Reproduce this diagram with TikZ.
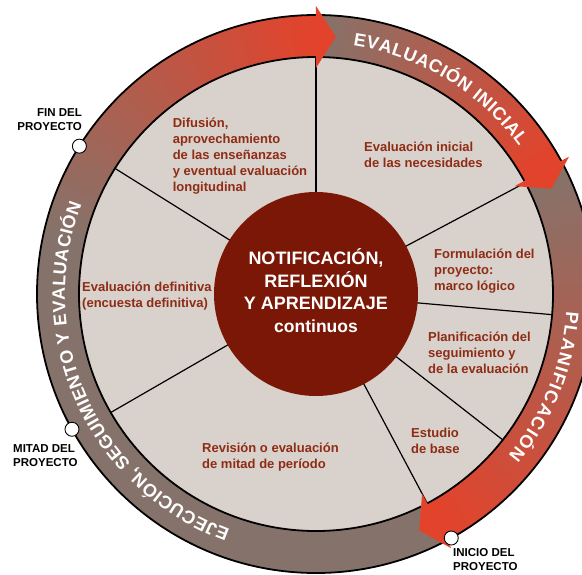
\documentclass[tikz,border=0pt]{standalone}
\usepackage{fontspec}
\setmainfont{Liberation Sans}
\usetikzlibrary{decorations.text}
\definecolor{ringbrown}{HTML}{85736B}
\definecolor{arrowred}{HTML}{E3432B}
\definecolor{segfill}{HTML}{D9D1CB}
\definecolor{hubred}{HTML}{7A1706}
\definecolor{labelred}{HTML}{8E2C16}
\newcommand\ringfont{\fontsize{18}{18}\selectfont\bfseries}
\newcommand\gradarc[3]{%
  \foreach \i in {0,...,47}{%
    \pgfmathsetmacro\aa{#1+(#2-#1)*\i/48}%
    \pgfmathsetmacro\ab{#1+(#2-#1)*(\i+1.4)/48}%
    \pgfmathsetmacro\pp{#3+(100-#3)*\i/47}%
    \fill[arrowred!\pp!ringbrown] (\aa:237pt) arc[start angle=\aa, end angle=\ab, radius=237pt]
      -- (\ab:279pt) arc[start angle=\ab, end angle=\aa, radius=279pt] -- cycle;
  }}
\newcommand\arrowhead[1]{%
  \fill[arrowred] (#1:226pt) -- (#1:288pt) -- ({#1-4.4}:258pt) -- cycle;}
\tikzset{
  seglabel/.style={font=\fontsize{13}{16}\selectfont\bfseries, text=labelred, align=left, inner sep=0pt, anchor=west},
  milestone/.style={font=\fontsize{11.5}{14}\selectfont\bfseries, text=black, inner sep=0pt},
  hubtext/.style={font=\fontsize{18}{22.5}\selectfont\bfseries, text=white, align=center, inner sep=0pt},
  spoke/.style={line width=1.2pt, black},
  dot/.style={circle, draw=black, line width=0.9pt, fill=white, minimum size=14pt, inner sep=0pt},
  ringtext/.style={decorate, decoration={text along path, text color=white, text align={fit to path}}}
}
\begin{document}
\begin{tikzpicture}
\useasboundingbox (-316pt,-280pt) rectangle (266pt,294pt);
\clip (-316pt,-280pt) rectangle (266pt,294pt);
% ring base and segments
\fill[ringbrown] (0,0) circle[radius=279pt];
\fill[segfill] (0,0) circle[radius=237pt];
% gradient arrows
\gradarc{168}{90}{0}
\gradarc{90}{28.5}{0}
\gradarc{28.5}{-62}{0}
% spokes
\foreach \a in {90,148,210,298,322,355,28}{
  \draw[spoke] (0,0) -- (\a:237pt);
}
% hub
\node[circle, fill=hubred, minimum size=204pt, inner sep=0pt] (hub) at (0,0) {};
% outlines
\draw[line width=1.8pt] (0,0) circle[radius=279pt];
\draw[line width=1.8pt] (0,0) circle[radius=237pt];
% arrow heads
\arrowhead{90}
\arrowhead{28.5}
\arrowhead{298}
% milestone dots
\node[dot] (fin) at (148:279pt) {};
\node[dot] (mitad) at (209:279pt) {};
\node[dot] (inicio) at (299:279pt) {};
% ring texts
\path[ringtext, decoration={text={|\ringfont|EVALUACIÓN INICIAL}}] (81.5:251pt) arc[start angle=81.5, end angle=36, radius=251pt];
\path[ringtext, decoration={text={|\ringfont|PLANIFICACIÓN}}] (356:251pt) arc[start angle=356, end angle=320, radius=251pt];
\path[ringtext, decoration={text={|\ringfont|EJECUCIÓN{,} SEGUIMIENTO Y EVALUACIÓN}}] (250:251pt) arc[start angle=250, end angle=159, radius=251pt];
% hub text
\node[hubtext] (hubt) at (0pt,3.5pt) {NOTIFICACIÓN,\\REFLEXIÓN\\Y APRENDIZAJE\\{\fontsize{17.5}{22.5}\selectfont continuos}};
% segment labels
\node[seglabel] (difusion) at (-143.4pt,138pt) {Difusión,\\aprovechamiento\\de las enseñanzas\\y eventual evaluación\\longitudinal};
\node[seglabel] (evalini) at (48pt,139pt) {Evaluación inicial\\de las necesidades};
\node[seglabel] (formul) at (118pt,23pt) {Formulación del\\proyecto:\\marco lógico};
\node[seglabel] (planif) at (112pt,-58.7pt) {Planificación del\\seguimiento y\\de la evaluación};
\node[seglabel] (estudio) at (95pt,-147pt) {Estudio\\de base};
\node[seglabel] (revision) at (-114pt,-163.5pt) {Revisión o evaluación\\de mitad de período};
\node[seglabel] (evaldef) at (-234pt,-2pt) {Evaluación definitiva\\(encuesta definitiva)};
% milestone labels
\node[milestone, align=right, anchor=east] (finlab) at (-234pt,174pt) {FIN DEL\\PROYECTO};
\node[milestone, align=left, anchor=west] (mitadlab) at (-303pt,-162pt) {MITAD DEL\\PROYECTO};
\node[milestone, align=left, anchor=west] (iniciolab) at (137pt,-266pt) {INICIO DEL\\PROYECTO};
\end{tikzpicture}
\end{document}
